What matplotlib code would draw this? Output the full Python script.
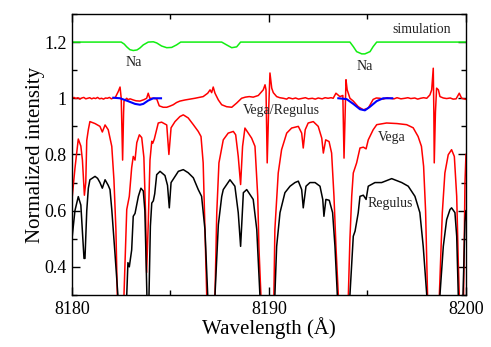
import matplotlib
matplotlib.use("Agg")
import matplotlib.pyplot as plt
from matplotlib.ticker import MultipleLocator

plt.rcParams['font.family'] = ['Liberation Serif', 'DejaVu Serif']

# ---------------- data ----------------
regulus_x = [8180.00, 8180.15, 8180.32, 8180.45, 8180.61, 8180.66, 8180.75, 8180.83, 8180.91,
             8181.17, 8181.30, 8181.42, 8181.54, 8181.68, 8181.84, 8181.93, 8182.02, 8182.18,
             8182.23, 8182.35, 8182.55, 8182.78, 8182.84, 8182.91, 8183.03, 8183.11, 8183.20,
             8183.37, 8183.50, 8183.62, 8183.70, 8183.76, 8183.82, 8183.91, 8183.98, 8184.05,
             8184.13, 8184.20, 8184.30, 8184.47, 8184.72, 8184.85, 8184.94, 8185.03, 8185.40,
             8185.65, 8185.90, 8186.16, 8186.41, 8186.58, 8186.75, 8186.89, 8187.05, 8187.26,
             8187.43, 8187.60, 8187.68, 8188.02, 8188.27, 8188.44, 8188.56, 8188.70, 8188.87,
             8189.04, 8189.20, 8189.38, 8189.54, 8189.95, 8190.30, 8190.39, 8190.56, 8190.81,
             8191.07, 8191.32, 8191.49, 8191.66, 8191.74, 8191.88, 8192.08, 8192.34, 8192.59,
             8192.73, 8192.79, 8192.89, 8193.06, 8193.23, 8193.35, 8193.47, 8193.75, 8194.11,
             8194.28, 8194.37, 8194.53, 8194.62, 8194.79, 8194.93, 8195.04, 8195.38, 8195.72,
             8196.23, 8196.74, 8197.07, 8197.41, 8197.66, 8197.83, 8198.01, 8198.35, 8198.68,
             8198.85, 8199.02, 8199.19, 8199.27, 8199.44, 8199.53, 8199.61, 8199.78, 8199.85,
             8199.95, 8200.00]
regulus_y = [0.50, 0.60, 0.65, 0.62, 0.43, 0.43, 0.60, 0.68, 0.71,
             0.722, 0.715, 0.70, 0.68, 0.71, 0.69, 0.675, 0.604, 0.45,
             0.40, 0.28, 0.15, 0.30, 0.415, 0.40, 0.46, 0.58, 0.59,
             0.651, 0.68, 0.67, 0.60, 0.426, 0.25, 0.30, 0.545, 0.627,
             0.635, 0.66, 0.728, 0.74, 0.725, 0.69, 0.61, 0.70, 0.74,
             0.746, 0.735, 0.717, 0.675, 0.651, 0.533, 0.30, 0.15, 0.30,
             0.55, 0.65, 0.675, 0.71, 0.687, 0.593, 0.473, 0.664, 0.675,
             0.657, 0.64, 0.533, 0.30, 0.15, 0.30, 0.473, 0.593, 0.664,
             0.687, 0.70, 0.705, 0.675, 0.61, 0.687, 0.70, 0.70, 0.687,
             0.64, 0.58, 0.64, 0.637, 0.593, 0.473, 0.30, 0.15, 0.30,
             0.509, 0.527, 0.592, 0.651, 0.655, 0.64, 0.687, 0.70, 0.70,
             0.714, 0.70, 0.687, 0.651, 0.593, 0.473, 0.30, 0.15, 0.30,
             0.473, 0.568, 0.604, 0.61, 0.593, 0.509, 0.30, 0.20, 0.30,
             0.56, 0.60]

vega_x = [8180.00, 8180.15, 8180.32, 8180.45, 8180.53, 8180.63, 8180.70, 8180.75, 8180.83,
          8180.91, 8181.17, 8181.42, 8181.54, 8181.68, 8181.84, 8182.02, 8182.13, 8182.23,
          8182.30, 8182.50, 8182.64, 8182.78, 8182.91, 8183.03, 8183.11, 8183.20, 8183.29,
          8183.42, 8183.54, 8183.65, 8183.74, 8183.79, 8183.87, 8183.96, 8184.05, 8184.10,
          8184.18, 8184.38, 8184.55, 8184.81, 8184.92, 8185.03, 8185.23, 8185.48, 8185.65,
          8185.90, 8186.16, 8186.41, 8186.55, 8186.66, 8186.75, 8186.84, 8187.05, 8187.26,
          8187.35, 8187.46, 8187.68, 8187.93, 8188.19, 8188.31, 8188.44, 8188.56, 8188.66,
          8188.78, 8188.95, 8189.12, 8189.29, 8189.43, 8189.49, 8189.59, 8189.95, 8190.25,
          8190.30, 8190.47, 8190.64, 8190.90, 8191.15, 8191.49, 8191.66, 8191.74, 8191.84,
          8191.99, 8192.25, 8192.50, 8192.68, 8192.76, 8192.88, 8193.05, 8193.18, 8193.30,
          8193.40, 8193.52, 8193.80, 8194.03, 8194.11, 8194.20, 8194.28, 8194.45, 8194.62,
          8194.79, 8194.93, 8195.04, 8195.29, 8195.47, 8195.97, 8196.50, 8196.99, 8197.32,
          8197.57, 8197.74, 8197.85, 8197.95, 8198.05, 8198.35, 8198.65, 8198.80, 8198.93,
          8199.10, 8199.27, 8199.41, 8199.53, 8199.61, 8199.66, 8199.78, 8199.88, 8199.95,
          8200.00]
vega_y = [0.64, 0.75, 0.855, 0.83, 0.78, 0.655, 0.70, 0.85, 0.888,
          0.917, 0.91, 0.90, 0.88, 0.905, 0.888, 0.829, 0.71, 0.533,
          0.30, 0.15, 0.30, 0.604, 0.651, 0.753, 0.793, 0.78, 0.842,
          0.87, 0.86, 0.79, 0.58, 0.38, 0.55, 0.78, 0.847, 0.84,
          0.855, 0.912, 0.915, 0.905, 0.80, 0.895, 0.917, 0.935, 0.941,
          0.93, 0.906, 0.882, 0.864, 0.77, 0.533, 0.30, 0.15, 0.30,
          0.593, 0.77, 0.852, 0.876, 0.882, 0.87, 0.793, 0.693, 0.829,
          0.894, 0.876, 0.858, 0.829, 0.651, 0.47, 0.30, 0.15, 0.30,
          0.533, 0.734, 0.817, 0.876, 0.894, 0.90, 0.876, 0.823, 0.888,
          0.912, 0.917, 0.90, 0.858, 0.805, 0.852, 0.846, 0.805, 0.651,
          0.473, 0.30, 0.15, 0.30, 0.50, 0.651, 0.734, 0.77, 0.823,
          0.826, 0.82, 0.852, 0.888, 0.906, 0.912, 0.910, 0.906, 0.895,
          0.864, 0.829, 0.758, 0.60, 0.30, 0.15, 0.30, 0.593, 0.734,
          0.799, 0.817, 0.793, 0.651, 0.42, 0.30, 0.20, 0.30, 0.70,
          0.80]

ratio_x = [8180.00, 8180.10, 8180.20, 8180.30, 8180.40, 8180.50, 8180.60, 8180.70, 8180.80,
           8180.90, 8181.00, 8181.10, 8181.20, 8181.30, 8181.40, 8181.50, 8181.60, 8181.70,
           8181.80, 8181.90, 8182.00, 8182.10, 8182.20, 8182.35, 8182.44, 8182.50, 8182.57,
           8182.62, 8182.64, 8182.78, 8182.84, 8182.95, 8183.11, 8183.25, 8183.45, 8183.65,
           8183.79, 8183.87, 8183.95, 8184.13, 8184.30, 8184.43, 8184.63, 8184.81, 8184.97,
           8185.14, 8185.31, 8185.48, 8185.74, 8186.00, 8186.24, 8186.45, 8186.66, 8186.89,
           8187.01, 8187.09, 8187.17, 8187.26, 8187.43, 8187.60, 8187.85, 8188.11, 8188.36,
           8188.61, 8188.80, 8189.00, 8189.20, 8189.46, 8189.71, 8189.80, 8189.85, 8189.91,
           8189.98, 8190.05, 8190.14, 8190.22, 8190.39, 8190.55, 8190.73, 8190.90, 8191.00,
           8191.20, 8191.35, 8191.50, 8191.70, 8191.85, 8192.00, 8192.20, 8192.35, 8192.50,
           8192.70, 8192.85, 8193.00, 8193.15, 8193.26, 8193.40, 8193.60, 8193.75, 8193.81,
           8193.87, 8193.91, 8193.97, 8194.11, 8194.28, 8194.53, 8194.79, 8195.04, 8195.29,
           8195.45, 8195.63, 8195.80, 8196.00, 8196.14, 8196.35, 8196.50, 8196.70, 8196.90,
           8197.05, 8197.20, 8197.40, 8197.55, 8197.70, 8197.85, 8198.01, 8198.17, 8198.26,
           8198.34, 8198.37, 8198.39, 8198.45, 8198.51, 8198.60, 8198.68, 8198.85, 8199.02,
           8199.20, 8199.35, 8199.50, 8199.66, 8199.78, 8199.90, 8200.00]
ratio_y = [1.000, 1.003, 0.999, 1.002, 0.997, 1.001, 1.003, 0.998, 1.000,
           1.002, 0.998, 1.001, 0.999, 1.003, 0.998, 1.000, 0.997, 1.001,
           1.000, 1.003, 0.998, 1.001, 1.003, 1.024, 1.040, 1.000, 0.780,
           0.950, 0.990, 1.000, 0.995, 0.998, 0.994, 0.991, 0.990, 0.995,
           1.000, 1.018, 1.000, 1.000, 0.998, 0.973, 0.968, 0.968, 0.972,
           0.977, 0.985, 0.990, 0.994, 0.997, 1.000, 1.003, 1.006, 1.018,
           1.030, 1.020, 1.040, 1.018, 0.994, 0.977, 0.970, 0.968, 0.983,
           1.000, 1.004, 1.006, 1.004, 1.010, 1.030, 1.048, 1.030, 0.770,
           0.950, 1.090, 1.036, 1.020, 1.006, 1.002, 1.000, 0.997, 1.002,
           0.998, 1.001, 0.997, 1.000, 1.002, 0.998, 1.000, 0.997, 1.001,
           0.998, 1.002, 1.000, 1.002, 1.000, 1.018, 1.006, 1.010, 0.787,
           0.950, 1.066, 1.030, 1.000, 0.990, 0.970, 0.959, 0.965, 0.996,
           1.001, 1.000, 0.997, 1.002, 1.000, 0.998, 1.002, 0.998, 1.000,
           1.002, 0.999, 1.001, 0.997, 1.000, 1.002, 1.000, 1.012, 1.030,
           1.107, 0.950, 0.770, 0.950, 1.036, 1.030, 1.006, 1.001, 0.999,
           1.001, 0.997, 0.998, 1.018, 1.000, 0.998, 0.996]

fit1_x = [8182.10, 8182.44, 8182.84, 8183.20, 8183.45, 8183.62, 8183.87, 8184.13, 8184.52]
fit1_y = [1.002, 1.000, 0.990, 0.980, 0.977, 0.980, 0.992, 1.000, 1.000]

fit2_x = [8193.52, 8193.94, 8194.28, 8194.62, 8194.87, 8195.13, 8195.47, 8195.80, 8196.26]
fit2_y = [1.000, 0.997, 0.980, 0.961, 0.957, 0.970, 0.990, 1.000, 1.000]

sim_x = [8180.00, 8182.50, 8182.65, 8182.78, 8182.94, 8183.11, 8183.30, 8183.45, 8183.62,
         8183.87, 8184.13, 8184.30, 8184.55, 8184.81, 8185.06, 8185.31, 8185.52, 8187.60,
         8187.85, 8188.11, 8188.36, 8188.56, 8194.11, 8194.28, 8194.45, 8194.71, 8194.87,
         8195.13, 8195.29, 8195.47, 8200.00]
sim_y = [1.200, 1.200, 1.193, 1.183, 1.173, 1.170, 1.172, 1.179, 1.190,
         1.200, 1.201, 1.197, 1.186, 1.180, 1.181, 1.190, 1.200, 1.200,
         1.190, 1.180, 1.183, 1.200, 1.200, 1.184, 1.166, 1.158, 1.158,
         1.166, 1.184, 1.200, 1.200]

labels = ["simulation", "Na", "Na", "Vega/Regulus", "Vega", "Regulus"]
label_x = [8197.77, 8183.15, 8194.87, 8190.64, 8196.24, 8196.17]
label_y = [1.243, 1.126, 1.113, 0.957, 0.859, 0.627]

# ---------------- figure ----------------
fig = plt.figure(figsize=(4.91, 3.47), dpi=100)
ax = fig.add_axes([0.1466, 0.150, 0.8024, 0.8097])

lw = 1.1
ax.plot(sim_x, sim_y, color='#11ee11', lw=lw)
ax.plot(ratio_x, ratio_y, color='#ff0000', lw=lw)
ax.plot(fit1_x, fit1_y, color='#0000ff', lw=1.5)
ax.plot(fit2_x, fit2_y, color='#0000ff', lw=1.5)
ax.plot(vega_x, vega_y, color='#ff0000', lw=lw)
ax.plot(regulus_x, regulus_y, color='black', lw=lw)

for t, x, y in zip(labels, label_x, label_y):
    ax.text(x, y, t, ha='center', va='center', fontsize=10, color='#222222')

ax.set_xlim(8180, 8200)
ax.set_ylim(0.3, 1.3)
ax.xaxis.set_major_locator(MultipleLocator(10))
ax.xaxis.set_minor_locator(MultipleLocator(5))
ax.yaxis.set_major_locator(MultipleLocator(0.2))
ax.yaxis.set_minor_locator(MultipleLocator(0.1))
ax.yaxis.set_major_formatter(plt.FuncFormatter(
    lambda v, p: '1' if abs(v - 1) < 1e-9 else '%.1f' % v))
ax.tick_params(which='both', direction='in', top=True, right=True, labelsize=13, width=1.0)
ax.tick_params(which='major', length=6, pad=4)
ax.tick_params(which='minor', length=3.5)
for s in ax.spines.values():
    s.set_linewidth(1.0)

ax.set_xlabel('Wavelength (Å)', fontsize=15, labelpad=0)
ax.set_ylabel('Normalized intensity', fontsize=15, labelpad=-1)

fig.savefig('out.png', dpi=100)
